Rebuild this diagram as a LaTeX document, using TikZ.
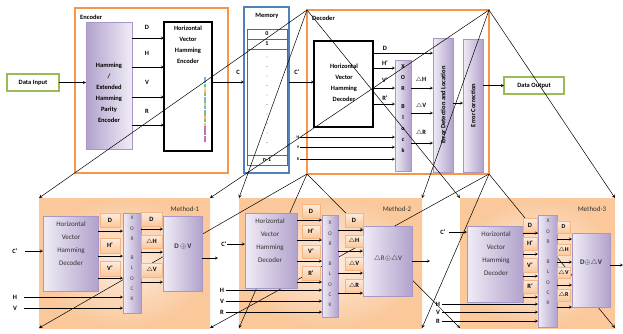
\documentclass[tikz,border=0pt]{standalone}
\usepackage{fontspec}
\setmainfont{Carlito}
\definecolor{orangeE}{RGB}{247,150,70}
\definecolor{blueE}{RGB}{79,129,189}
\definecolor{greenE}{RGB}{155,187,89}
\definecolor{purpleL}{RGB}{240,236,246}
\definecolor{purpleD}{RGB}{178,162,204}
\definecolor{purpleB}{RGB}{168,150,196}
\definecolor{peachL}{RGB}{253,236,222}
\definecolor{peachM}{RGB}{250,200,155}
\definecolor{peachD}{RGB}{245,180,130}
\begin{document}
\begin{tikzpicture}[>=stealth, x=1pt, y=-1pt,
  box/.style={anchor=north west, inner sep=0pt, outer sep=0pt},
  frame/.style={box, draw=orangeE, line width=1.2pt},
  blk/.style={box, draw, line width=1.2pt, fill=white},
  grn/.style={box, draw=greenE, line width=1.2pt, fill=white, font=\fontsize{6.5}{8}\selectfont\bfseries},
  purp/.style={box, draw=purpleB, left color=purpleL, right color=purpleD},
  pch/.style={box, draw=peachD, top color=peachL, bottom color=peachM, font=\fontsize{6.5}{8}\selectfont\bfseries},
  meth/.style={box, inner color=peachL, outer color=peachM},
  cell/.style={box, draw=black!60, minimum width=40, font=\fontsize{6}{7}\selectfont\bfseries},
  bt/.style={font=\fontsize{6.5}{11}\selectfont\bfseries, inner sep=0pt, align=center},
  rt/.style={font=\fontsize{7}{13}\selectfont, text=black!80, inner sep=0pt, align=center},
  xt/.style={font=\fontsize{5.5}{10.3}\selectfont, text=black!75, inner sep=0pt, align=center, anchor=north},
  tinyl/.style={font=\fontsize{4}{5}\selectfont\bfseries, inner sep=0.5pt}]
\useasboundingbox (0,0) rectangle (623,333);

% encoder side
\node[grn, minimum width=52, minimum height=17] (din) at (7,74) {Data Input};
\node[frame, minimum width=153, minimum height=165] (enc) at (75,8) {};
\node[bt, anchor=west] (enct) at (80,17) {Encoder};
\node[box, draw=purpleB, left color=purpleD, right color=purpleL, minimum width=46, minimum height=127] (hamm) at (86,22) {};
\node[bt] (hammt) at (109,93) {Hamming\\/\\Extended\\Hamming\\Parity\\Encoder};
\node[blk, minimum width=48, minimum height=129] (hvhe) at (164,22) {};
\node[bt, anchor=north] (hvhet) at (188,26) {Horizontal\\Vector\\Hamming\\Encoder};
\foreach \col [count=\ci from 0] in {cyan!70!blue,cyan!70!blue,green!60!black,yellow!70!green,orange,green!60!black,cyan!70!blue,green!60!black,orange,cyan!70!blue,green!60!black,green!60!black,orange,green!60!black,orange,violet,violet,violet,violet,violet}
  \fill[\col!55] (204,77+3.25*\ci) rectangle ++(2.2,3);
\draw[->] (din) -- (hamm.west |- din);
\foreach \y/\s/\ly in {38/D/27, 67/H/53, 97/V/82, 125/R/111} {
  \draw[->] (hamm.east |- 0,\y) -- (hvhe.west |- 0,\y);
  \node[bt] (enc\s) at (147,\ly) {\s};
}

% memory
\node[box, draw=blueE, line width=1.2pt, minimum width=45, minimum height=166] (mem) at (244,7) {};
\node[bt] (memt) at (267,16) {Memory};
\node[cell, minimum height=10] (mc0) at (247,29) {0};
\node[cell, minimum height=10] (mc1) at (247,39) {1};
\node[cell, minimum height=106] (mcd) at (247,49) {};
\node[cell, minimum height=10] (mcn) at (247,155) {n-1};
\foreach \kk in {0,...,9} \fill (267,57+9.5*\kk) circle (0.45);
\draw[->] (hvhe.east |- 0,82) -- (mem.west |- 0,82);
\node[bt] (lc) at (238,72) {C};

% decoder
\node[frame, minimum width=182, minimum height=164] (dec) at (307,10) {};
\node[bt, anchor=west] (dect) at (312,18) {Decoder};
\node[blk, minimum width=59, minimum height=86] (dhvhd) at (314,41) {};
\node[bt] (dhvhdt) at (344,83) {Horizontal\\Vector\\Hamming\\Decoder};
\draw[->] (mem.east |- 0,82) -- (dhvhd.west |- 0,82);
\node[bt] (lcp) at (297,72) {C’};
\node[purp, minimum width=16, minimum height=111] (dxor) at (395,60) {};
\node[bt, font=\fontsize{6}{11}\selectfont\bfseries, anchor=north] (dxort) at (403,64) {X\\O\\R\\[7pt]B\\l\\o\\c\\k};
\node[purp, minimum width=20, minimum height=134] (edl) at (433,38) {};
\node[bt, rotate=90] (edlt) at (edl) {Error Detection and Location};
\node[purp, minimum width=20, minimum height=133] (ec) at (463,39) {};
\node[bt, rotate=90] (ect) at (ec) {Error Correction};
\node[grn, minimum width=60, minimum height=17] (dout) at (504,77) {Data Output};
\draw[->] (dhvhd.east |- 0,53) -- (edl.west |- 0,53);
\node[bt] (ldD) at (385,48) {D};
\foreach \y/\s/\ly in {68/H/63, 88/V/80, 104/R/98} {
  \draw[->] (dhvhd.east |- 0,\y) -- (dxor.west |- 0,\y);
  \node[bt] (ld\s) at (385,\ly) {\s’};
}
\foreach \y/\s/\ly in {88/H/80, 113/V/106, 143/R/133} {
  \draw[->] (dxor.east |- 0,\y) -- (edl.west |- 0,\y);
  \node[bt] (lx\s) at (421,\ly) {$\triangle$\s};
}
\foreach \y/\s in {137/H, 147/V, 159/R} {
  \node[tinyl] (li\s) at (298,\y) {\s};
  \draw[->] (li\s) -- (dxor.west |- li\s);
}
\draw[->] (edl.east |- 0,103) -- (ec.west |- 0,103);
\draw[->] (ec.east |- dout) -- (dout);

% methods
\node[meth, minimum width=171, minimum height=130] (m1) at (39,198) {};
\node[meth, minimum width=183, minimum height=130] (m2) at (239,198) {};
\node[meth, minimum width=155, minimum height=130] (m3) at (460,198) {};
\foreach \m in {m1,m2,m3}
  \foreach \anc in {north west,north east,south west,south east}
    \draw[->, line width=0.5pt] (dec.\anc) -- (\m.\anc);

% method-1
\node[rt] (m1t) at (185,209) {Method-1};
\node[purp, minimum width=55, minimum height=75] (h1) at (43,216) {};
\node[rt] (h1t) at (71,244) {Horizontal\\Vector\\Hamming\\Decoder};
\node[purp, minimum width=18, minimum height=100] (x1) at (123,213) {};
\node[xt] (x1t) at (132,216) {X\\O\\R\\[9pt]B\\L\\O\\C\\K};
\node[purp, minimum width=39, minimum height=75] (o1) at (163,216) {};
\node[rt, font=\fontsize{7}{13}\selectfont\bfseries] (o1t) at (183,247) {D\,$\oplus$\,V};
\foreach \y/\hh/\s/\nm in {213/14/D/a, 238/15/H’/b, 261/15/V’/c}
  \node[pch, minimum width=20, minimum height=\hh] (l1\nm) at (100,\y) {\s};
\foreach \y/\hh/\s/\nm in {212/14/D/a, 235/13/$\triangle$H/b, 263/14/$\triangle$V/c}
  \node[pch, minimum width=21, minimum height=\hh] (r1\nm) at (141,\y) {\s};
\foreach \y in {231,256,278} \draw[->] (h1.east |- 0,\y) -- (x1.west |- 0,\y);
\foreach \y in {229,252,282} \draw[->] (x1.east |- 0,\y) -- (o1.west |- 0,\y);
\coordinate (m1o) at (218,258);
\draw[->] (o1.east |- m1o) -- (m1o);
\node[bt] (c1) at (15,251) {C’};
\draw[->, shorten <=7pt] (c1) -- (h1.west |- c1);
\foreach \y/\s in {297/H, 308/V} {
  \node[bt] (i1\s) at (15,\y) {\s};
  \draw[->, shorten <=7pt] (i1\s) -- (x1.west |- i1\s);
}

% method-2
\node[rt] (m2t) at (397,209) {Method-2};
\node[purp, minimum width=52, minimum height=75] (h2) at (245,213) {};
\node[rt] (h2t) at (270,241) {Horizontal\\Vector\\Hamming\\Decoder};
\node[purp, minimum width=16, minimum height=102] (x2) at (322,215) {};
\node[xt] (x2t) at (330,221) {X\\O\\R\\[10pt]B\\L\\O\\C\\K};
\node[purp, minimum width=49, minimum height=70] (o2) at (363,226) {};
\node[rt] (o2t) at (388,259) {$\triangle$R$\oplus\triangle$V};
\foreach \y/\hh/\s/\nm in {204/14/D/a, 225/13/H’/b, 245/13/V’/c, 266/14/R’/d}
  \node[pch, minimum width=18, minimum height=\hh] (l2\nm) at (302,\y) {\s};
\foreach \y/\hh/\s/\nm in {213/14/D/a, 235/12/$\triangle$H/b, 257/13/$\triangle$V/c, 279/14/$\triangle$R/d}
  \node[pch, minimum width=18, minimum height=\hh] (r2\nm) at (345,\y) {\s};
\foreach \y in {220,240,261,282} \draw[->] (h2.east |- 0,\y) -- (x2.west |- 0,\y);
\foreach \y in {230,251,273,293} \draw[->] (x2.east |- 0,\y) -- (o2.west |- 0,\y);
\coordinate (m2o) at (430,261);
\draw[->] (o2.east |- m2o) -- (m2o);
\node[bt] (c2) at (224,244) {C’};
\draw[->] (c2) -- (h2.west |- c2);
\foreach \y/\s in {290/H, 301/V, 312/R} {
  \node[bt] (i2\s) at (222,\y) {\s};
  \draw[->, shorten <=2pt] (i2\s) -- (x2.west |- i2\s);
}

% method-3
\node[rt] (m3t) at (592,209) {Method-3};
\node[purp, minimum width=56, minimum height=76] (h3) at (467,226) {};
\node[rt] (h3t) at (496,254) {Horizontal\\Vector\\Hamming\\Decoder};
\node[purp, minimum width=19, minimum height=112] (x3) at (538,215) {};
\node[xt] (x3t) at (548,219) {X\\O\\R\\[10pt]B\\L\\O\\C\\K};
\node[purp, minimum width=38, minimum height=74] (o3) at (572,233) {};
\node[rt, font=\fontsize{7}{13}\selectfont\bfseries] (o3t) at (591,263) {D$\oplus\triangle$V};
\foreach \y/\hh/\s/\nm in {218/14/D/a, 237/13/H’/b, 258/14/V’/c, 280/13/R’/d}
  \node[pch, minimum width=14, minimum height=\hh] (l3\nm) at (523,\y) {\s};
\foreach \y/\hh/\s/\nm in {221/12/D/a, 244/11/$\triangle$H/b, 267/11/$\triangle$V/c, 289/12/$\triangle$R/d}
  \node[pch, minimum width=13, minimum height=\hh, font=\fontsize{6}{7}\selectfont\bfseries] (r3\nm) at (557,\y) {\s};
\foreach \y in {233,254,276,297} \draw[->] (h3.east |- 0,\y) -- (x3.west |- 0,\y);
\foreach \y in {239,262,285,307} \draw[->] (x3.east |- 0,\y) -- (o3.west |- 0,\y);
\coordinate (m3o) at (623,265);
\draw[->] (o3.east |- m3o) -- (m3o);
\node[bt] (c3) at (443,232) {C’};
\draw[->, shorten <=3pt] (c3) -- (h3.west |- c3);
\foreach \y/\s in {304/H, 312/V, 321/R} {
  \node[bt] (i3\s) at (438,\y) {\s};
  \draw[->, shorten <=2pt] (i3\s) -- (x3.west |- i3\s);
}
\end{tikzpicture}
\end{document}
